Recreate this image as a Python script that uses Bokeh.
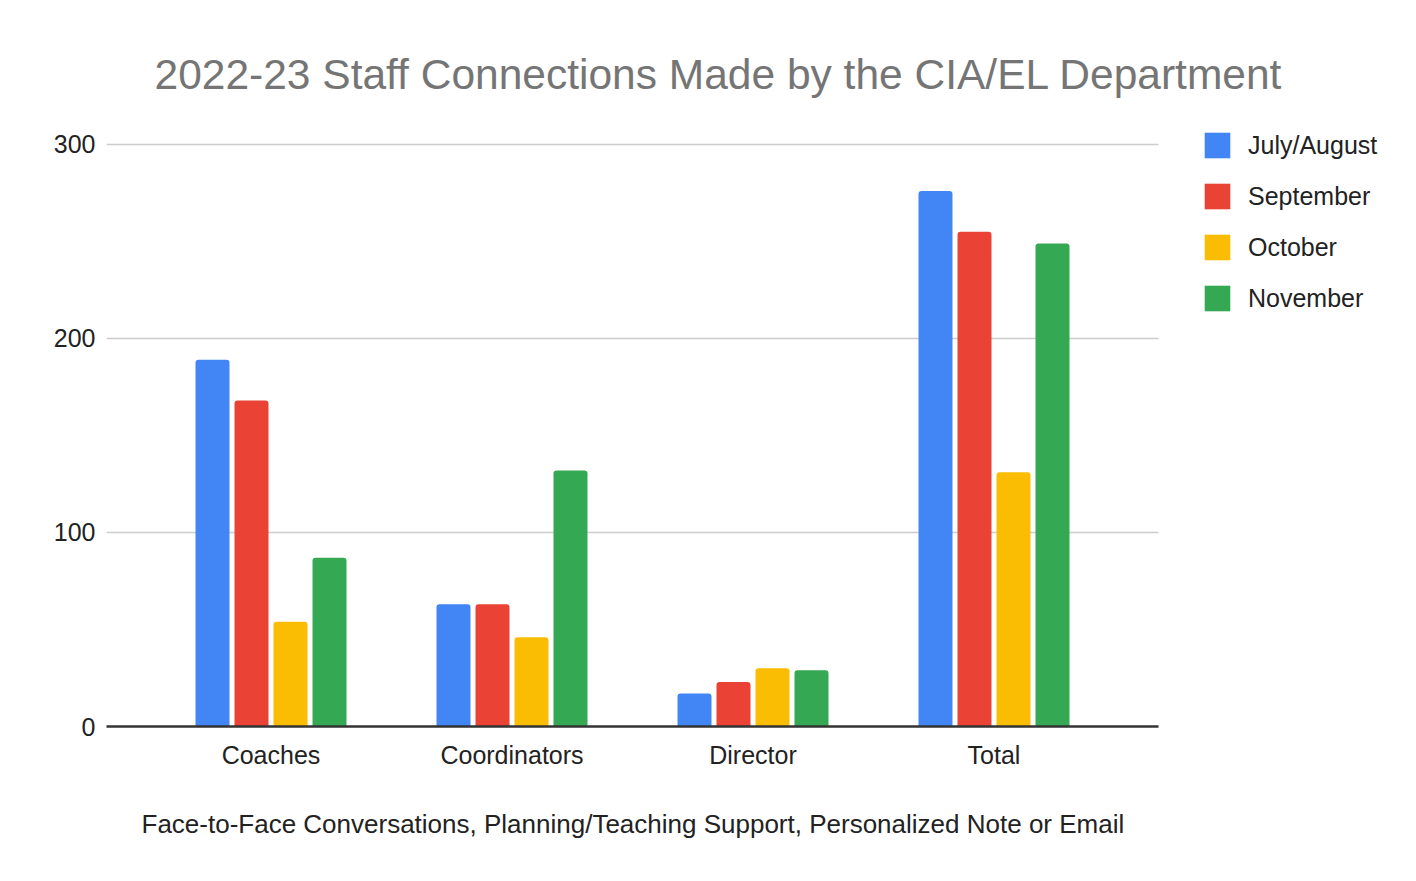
from bokeh.plotting import figure
from bokeh.models import ColumnDataSource, FactorRange, Legend, LegendItem, Range1d, Title
from bokeh.transform import dodge
from bokeh.embed import file_html
from bokeh.resources import INLINE

categories = ["Coaches", "Coordinators", "Director", "Total"]
months = ["July/August", "September", "October", "November"]
july_august = [189, 63, 17, 276]
september = [168, 63, 23, 255]
october = [54, 46, 30, 131]
november = [87, 132, 29, 249]
colors = ["#4285F4", "#EA4335", "#FBBC04", "#34A853"]
y_ticks = [0, 100, 200, 300]

FONT = "Liberation Sans"
PAD = 0.1826   # empty space at each end of the category axis, in category widths
Y_MAX = 310.3  # a little head room above the top grid line, for the legend

src = ColumnDataSource(dict(cat=categories, m0=july_august, m1=september,
                            m2=october, m3=november))

# an extra blank factor on the right leaves room for the legend inside the plot area
x_range = FactorRange(factors=categories + [" "], range_padding=PAD,
                      range_padding_units="absolute")

p = figure(width=1400, height=876, output_backend="svg", toolbar_location=None,
           x_range=x_range, y_range=Range1d(y_ticks[0], Y_MAX),
           min_border_left=106, min_border_right=1, min_border_top=124,
           min_border_bottom=150)

p.title.text = "2022-23 Staff Connections Made by the CIA/EL Department"
p.title.text_font = FONT
p.title.text_font_size = "42.5px"
p.title.text_font_style = "normal"
p.title.text_color = "#757575"
p.title.align = "left"
p.title.offset = 48
p.title.standoff = 54

pitch = 39 / 241
width = 34 / 241
offsets = [-1.5 * pitch, -0.5 * pitch, 0.5 * pitch, 1.5 * pitch]
renderers = []
for i, (col, c) in enumerate(zip(["m0", "m1", "m2", "m3"], colors)):
    r = p.vbar(x=dodge("cat", offsets[i], range=p.x_range), top=col, width=width,
               source=src, fill_color=c, line_color=None, border_radius=(3, 3, 0, 0))
    renderers.append(r)

cat_bounds = (-PAD, len(categories) + PAD)

p.outline_line_color = None
p.xgrid.grid_line_color = None
p.ygrid.grid_line_color = "#cccccc"
p.ygrid.grid_line_width = 1.5
p.ygrid.cross_bounds = cat_bounds
p.yaxis.ticker = y_ticks
p.yaxis.axis_line_color = None
p.yaxis.major_tick_line_color = None
p.yaxis.minor_tick_line_color = None
p.yaxis.major_label_text_font = FONT
p.yaxis.major_label_text_font_size = "25px"
p.yaxis.major_label_text_color = "#222222"
p.yaxis.major_label_standoff = 5

p.xaxis.bounds = cat_bounds
p.xaxis.axis_line_color = "#333333"
p.xaxis.axis_line_width = 2.5
p.xaxis.major_tick_line_color = None
p.xaxis.minor_tick_line_color = None
p.xaxis.major_label_text_font = FONT
p.xaxis.major_label_text_font_size = "25px"
p.xaxis.major_label_text_color = "#222222"
p.xaxis.major_label_standoff = 8

# x-axis caption, centred under the categories rather than the whole plot area
caption = Title(text="Face-to-Face Conversations, Planning/Teaching Support, Personalized Note or Email",
                text_font=FONT, text_font_size="26px", text_font_style="normal",
                text_color="#222222", align="left", offset=35, standoff=70)
p.add_layout(caption, "below")

legend = Legend(items=[LegendItem(label=m, renderers=[r]) for m, r in zip(months, renderers)],
                location=(1095, 412), orientation="vertical",
                glyph_width=32, glyph_height=32, label_height=26, spacing=19,
                label_standoff=15, padding=0, margin=0,
                label_text_font=FONT, label_text_font_size="25px",
                label_text_color="#222222", border_line_color=None,
                background_fill_alpha=0)
p.add_layout(legend)

open("out.html", "w").write(file_html(p, INLINE))
